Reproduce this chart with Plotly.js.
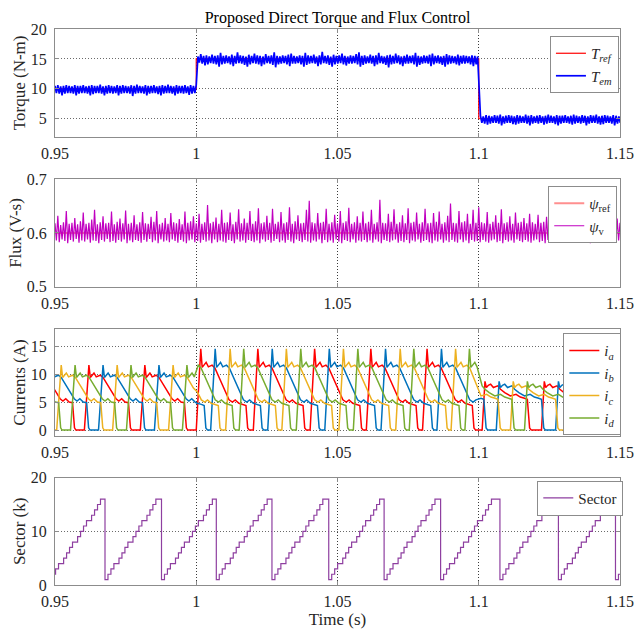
<!DOCTYPE html>
<html><head><meta charset="utf-8">
<script src="https://cdn.plot.ly/plotly-3.0.1.min.js"></script>
<style>html,body{margin:0;padding:0;background:#fff}</style>
</head><body><div id="chart" style="width:639px;height:630px"></div>
<script>
// ---------- axis ticks ----------
const xTickVals = [0.95, 1, 1.05, 1.1, 1.15];
const xTickText = ['0.95', '1', '1.05', '1.1', '1.15'];

// ---------- torque reference (N-m) ----------
const trefT = [0.95, 1.0, 1.1, 1.15];
const trefV = [10, 15, 5, 5];

// ---------- electromagnetic torque ripple band, read every 1 ms ----------
// segment A: 0.950 .. 1.000
const temHiA = [10.5,10.6,10.4,10.5,10.6,10.5,10.4,10.6,10.5,10.5,
  10.6,10.4,10.5,10.6,10.5,10.5,10.7,10.4,10.5,10.6,
  10.5,10.4,10.6,10.5,10.6,10.5,10.4,10.6,10.5,10.7,
  10.5,10.4,10.6,10.5,10.5,10.6,10.4,10.5,10.6,10.5,
  10.7,10.5,10.4,10.6,10.5,10.5,10.6,10.4,10.6,10.5,10.6];
const temLoA = [9.3,9.2,8.9,9.2,9.3,9.3,9.2,8.9,9.2,9.3,
  9.3,9.2,8.9,9.1,9.3,9.3,9.2,8.9,9.2,9.3,
  9.2,9.3,8.9,9.2,9.3,9.3,9.2,8.8,9.2,9.3,
  9.3,9.2,8.9,9.2,9.3,9.3,9.1,8.9,9.2,9.3,
  9.3,9.2,8.9,9.2,9.3,9.2,9.3,9.0,9.2,9.3,9.3];
// segment B: 1.0006 .. 1.0996
const temHiB = [15.4,15.8,15.5,15.6,15.4,15.7,15.5,15.6,16.0,15.5,
  15.6,15.4,15.7,15.5,16.1,15.6,15.5,15.4,15.7,15.5,
  15.9,15.6,15.5,15.4,15.8,15.5,15.6,16.1,15.5,15.4,
  15.6,15.5,15.7,15.9,15.5,15.4,15.6,15.5,16.0,15.6,
  15.5,15.7,15.4,15.6,16.2,15.5,15.6,15.4,15.7,15.5,
  15.6,15.9,15.5,15.4,15.6,15.5,15.8,16.1,15.5,15.6,
  15.4,15.7,15.5,15.6,16.0,15.5,15.4,15.6,15.7,15.5,
  15.9,15.6,15.4,15.5,15.7,15.5,15.6,16.0,15.5,15.4,
  15.6,15.5,15.7,15.9,15.5,15.6,15.4,15.5,15.8,15.6,
  15.5,15.4,15.7,15.5,15.6,15.5,15.4,15.6,15.5,15.4];
const temLoB = [14.4,14.2,13.9,14.1,14.3,14.2,14.1,13.7,14.1,14.2,
  14.3,14.1,13.8,14.2,14.3,14.2,14.0,13.7,14.1,14.3,
  14.2,14.1,13.8,14.1,14.3,14.2,14.0,13.6,14.1,14.2,
  14.3,14.1,13.8,14.2,14.2,14.3,14.1,13.7,14.0,14.2,
  14.3,14.2,13.8,14.1,14.3,14.2,14.0,13.7,14.1,14.2,
  14.3,14.1,13.9,14.2,14.2,14.3,14.1,13.7,14.0,14.2,
  14.3,14.2,13.8,14.1,14.3,14.2,14.0,13.6,14.1,14.2,
  14.3,14.1,13.8,14.2,14.2,14.3,14.1,13.7,14.0,14.2,
  14.3,14.2,13.8,14.1,14.3,14.2,14.0,13.7,14.1,14.2,
  14.3,14.1,13.9,14.2,14.2,14.3,14.1,13.8,14.1,14.2];
// segment C: 1.1006 .. 1.1506
const temHiC = [5.5,5.4,5.6,5.5,5.4,5.6,5.5,5.7,5.4,5.5,
  5.6,5.5,5.4,5.6,5.5,5.4,5.7,5.5,5.6,5.4,
  5.5,5.6,5.4,5.5,5.7,5.5,5.4,5.6,5.5,5.5,
  5.6,5.4,5.5,5.7,5.5,5.4,5.6,5.5,5.4,5.6,
  5.5,5.7,5.4,5.5,5.6,5.5,5.4,5.6,5.5,5.4,5.6];
const temLoC = [4.3,4.2,4.0,4.2,4.3,4.3,4.2,3.9,4.2,4.3,
  4.3,4.1,4.0,4.2,4.3,4.3,4.2,3.9,4.2,4.3,
  4.2,4.3,4.0,4.2,4.3,4.3,4.1,3.9,4.2,4.3,
  4.3,4.2,4.0,4.2,4.3,4.2,4.3,3.9,4.2,4.3,
  4.3,4.2,4.0,4.1,4.3,4.3,4.2,3.9,4.2,4.3,4.3];

// ---------- flux (V-s), band read every 1 ms from 0.950 ----------
const psiRef = 0.6;
const psiHi = [
 .618,.632,.615,.620,.641,.617,.619,.628,.616,.622,
 .638,.617,.619,.625,.643,.616,.620,.631,.618,.619,
 .640,.616,.621,.627,.618,.642,.617,.619,.633,.616,
 .620,.639,.618,.617,.630,.621,.641,.616,.619,.628,
 .617,.637,.620,.618,.626,.616,.640,.619,.622,.631,
 .618,.636,.617,.620,.652,.618,.621,.629,.617,.643,
 .619,.620,.638,.616,.621,.644,.618,.627,.619,.641,
 .617,.622,.646,.618,.620,.632,.619,.645,.617,.621,
 .639,.618,.620,.648,.617,.622,.633,.618,.619,.643,
 .660,.620,.618,.637,.619,.621,.645,.617,.620,.634,
 .618,.641,.619,.622,.647,.617,.620,.631,.619,.640,
 .618,.621,.643,.617,.620,.662,.619,.618,.636,.621,
 .644,.617,.620,.633,.618,.646,.619,.621,.638,.617,
 .620,.645,.618,.619,.637,.621,.640,.617,.620,.632,
 .655,.619,.618,.641,.620,.622,.636,.617,.643,.619,
 .648,.620,.618,.639,.617,.621,.633,.619,.644,.618,
 .620,.631,.617,.638,.619,.621,.628,.618,.636,.620,
 .617,.634,.619,.621,.630,.618,.635,.620,.617,.629,
 .621,.633,.618,.620,.627,.617,.632,.619,.621,.628,
 .618,.631,.620,.617,.629,.619,.634,.618,.620,.627,
 .619];
const psiLo = [
 .586,.583,.588,.585,.581,.587,.584,.589,.582,.586,
 .584,.588,.582,.586,.585,.581,.587,.584,.589,.583,
 .585,.582,.587,.584,.588,.581,.586,.583,.587,.585,
 .582,.587,.584,.589,.583,.586,.581,.588,.584,.586,
 .583,.588,.585,.582,.587,.584,.581,.586,.588,.583,
 .585,.582,.587,.584,.586,.581,.588,.583,.586,.584,
 .582,.587,.585,.581,.588,.584,.586,.582,.587,.585,
 .583,.586,.581,.588,.584,.587,.582,.585,.589,.583,
 .586,.582,.587,.584,.581,.588,.585,.583,.587,.584,
 .582,.586,.584,.588,.581,.587,.583,.586,.582,.588,
 .584,.581,.587,.585,.583,.588,.582,.586,.584,.587,
 .583,.586,.582,.588,.584,.581,.587,.585,.583,.586,
 .588,.582,.585,.583,.587,.581,.586,.584,.588,.582,
 .585,.587,.583,.581,.586,.584,.588,.582,.586,.583,
 .587,.584,.582,.588,.583,.586,.581,.587,.584,.585,
 .583,.587,.584,.582,.586,.588,.583,.585,.581,.587,
 .584,.586,.582,.588,.585,.583,.587,.584,.582,.586,
 .588,.583,.585,.581,.587,.584,.586,.582,.588,.584,
 .583,.587,.585,.582,.586,.584,.588,.583,.585,.581,
 .587,.584,.586,.582,.588,.583,.585,.587,.582,.586,
 .585];

// ---------- phase current pulse shapes (offset from pulse peak in s, current in A) ----------
const pulseOff10 = [-0.0016,-0.0008,0,0.0005,0.0012,0.0018,0.0026,0.0040,0.0050,0.0060,0.0072,0.0084,0.0096,0.0106,0.0116,0.0128,0.0140,0.0147,0.0152];
const pulseI10   = [0, 5.0, 11.6, 9.4, 9.9, 10.2, 9.5, 9.8, 9.4, 8.6, 7.5, 6.5, 5.6, 5.2, 5.6, 5.0, 4.9, 0.4, 0];
const pulseOff15 = [-0.0016,-0.0008,0,0.0005,0.0012,0.0019,0.0027,0.0040,0.0050,0.0060,0.0072,0.0086,0.0100,0.0112,0.0122,0.0135,0.0150,0.0160,0.0166,0.0172];
const pulseI15   = [0, 6.5, 14.5, 11.2, 11.7, 12.1, 11.3, 11.6, 11.1, 9.9, 8.5, 6.8, 5.4, 5.0, 5.4, 4.8, 4.6, 4.4, 0.4, 0];
const pulseOff5  = [-0.0010, 0, 0.0005, 0.0012, 0.0020, 0.0030, 0.0045, 0.0055, 0.0070, 0.0090, 0.0110, 0.0125, 0.0140, 0.0150, 0.0158, 0.0164];
const pulseI5    = [0, 8.7, 7.6, 8.0, 8.2, 7.6, 7.9, 7.3, 6.7, 6.1, 6.4, 5.9, 5.7, 5.5, 0.4, 0];

// peak times (s) of each phase current, per torque step
const iaPeaksA = [0.9422, 0.9620, 0.9818];
const iaPeaksB = [0.9818, 1.0016, 1.0218, 1.0419, 1.0618, 1.0817];
const iaPeaksC = [1.0817, 1.1022, 1.1232, 1.1432];
const ibPeaksA = [0.9472, 0.9670, 0.9868];
const ibPeaksB = [0.9868, 1.0067, 1.0269, 1.0471, 1.0670, 1.0868];
const ibPeaksC = [1.0868, 1.1072, 1.1282, 1.1484];
const icPeaksA = [0.9324, 0.9522, 0.9720, 0.9918];
const icPeaksB = [0.9918, 1.0120, 1.0319, 1.0521, 1.0722, 1.0918];
const icPeaksC = [1.0918, 1.1122, 1.1332];
const idPeaksA = [0.9373, 0.9571, 0.9769, 0.9967];
const idPeaksB = [0.9967, 1.0168, 1.0370, 1.0572, 1.0770, 1.0967];
const idPeaksC = [1.0967, 1.1172, 1.1382];

// ---------- sector ----------
const sectorResets = [0.9481, 0.9677, 0.9877, 1.0071, 1.0268, 1.0469, 1.0665, 1.0865, 1.1075, 1.1282, 1.1484];
const sectorLevels = [1,2,3,4,5,6,7,8,9,10,11,12,13,14,15,16];
const sectorStepOff = [0,0.00105,0.0021,0.00315,0.00495,0.0060,0.00705,0.0081,0.0099,0.01095,0.0120,0.01305,0.01485,0.0159,0.01695,0.0180];

// ---------- builders ----------
function zigzag(t0, dt, hi, lo) {
  const x = [], y = [];
  for (let i = 0; i < hi.length; i++) {
    x.push(t0 + i * dt); y.push(hi[i]);
    if (i < hi.length - 1) { x.push(t0 + (i + 0.5) * dt); y.push(lo[i]); }
  }
  return {x, y};
}
function joinParts(parts) {
  return {x: [].concat(...parts.map(p => p.x)), y: [].concat(...parts.map(p => p.y))};
}
function pulses(peaks, off, val, tmin, tmax) {
  const x = [], y = [];
  peaks.forEach(p => off.forEach((o, k) => {
    const t = p + o;
    if (t >= tmin && t < tmax) { x.push(t); y.push(val[k]); }
  }));
  return {x, y};
}
function phase(pA, pB, pC) {
  return joinParts([
    pulses(pA, pulseOff10, pulseI10, 0.93, 1.0),
    pulses(pB, pulseOff15, pulseI15, 1.0, 1.1),
    pulses(pC, pulseOff5, pulseI5, 1.1, 1.17)
  ]);
}
function sectorSeries() {
  const x = [], y = [];
  sectorResets.forEach((r, c) => {
    const next = c + 1 < sectorResets.length ? sectorResets[c + 1] : 1.17;
    sectorStepOff.forEach((o, k) => {
      if (r + o < next) { x.push(r + o); y.push(sectorLevels[k]); }
    });
  });
  x.push(1.16); y.push(y[y.length - 1]);
  return {x, y};
}

const tem = joinParts([
  zigzag(0.950, 0.001, temHiA, temLoA),
  zigzag(1.0006, 0.001, temHiB, temLoB),
  zigzag(1.1006, 0.001, temHiC, temLoC)
]);
const psi = zigzag(0.950, 0.001, psiHi, psiLo);
const ia = phase(iaPeaksA, iaPeaksB, iaPeaksC);
const ib = phase(ibPeaksA, ibPeaksB, ibPeaksC);
const ic = phase(icPeaksA, icPeaksB, icPeaksC);
const id = phase(idPeaksA, idPeaksB, idPeaksC);
const sec = sectorSeries();

// ---------- styling ----------
const FONT = '"Liberation Serif", "Times New Roman", serif';
const INK = '#262626';
function xAxis(anchor, extra) {
  return Object.assign({
    anchor, domain: [0, 1], range: [0.95, 1.15],
    tickvals: xTickVals, ticktext: xTickText,
    showline: true, linecolor: '#8c8c8c', linewidth: 1, mirror: 'ticks',
    ticks: 'inside', ticklen: 4, tickcolor: '#8c8c8c',
    showgrid: true, gridcolor: '#3a3a3a', griddash: '1px,2px', gridwidth: 1,
    zeroline: false, tickfont: {family: FONT, size: 16, color: INK},
    ticklabelstandoff: 2
  }, extra || {});
}
function yAxis(anchor, domain, range, tickvals, title, extra) {
  return Object.assign({
    anchor, domain, range, tickvals,
    showline: true, linecolor: '#8c8c8c', linewidth: 1, mirror: 'ticks',
    ticks: 'inside', ticklen: 4, tickcolor: '#8c8c8c',
    showgrid: true, gridcolor: '#6a6a6a', griddash: '1px,2px', gridwidth: 1,
    zeroline: false, tickfont: {family: FONT, size: 16, color: INK},
    ticklabelstandoff: 4,
    title: {text: title, font: {family: FONT, size: 17, color: INK}, standoff: 0}
  }, extra || {});
}
function legendBox(x, y) {
  return {x, y, xanchor: 'left', yanchor: 'top', bgcolor: '#ffffff',
    bordercolor: '#8c8c8c', borderwidth: 1, itemwidth: 30, tracegroupgap: 0,
    font: {family: FONT, size: 15, color: INK}};
}

const traces = [
  {x: trefT, y: trefV, type: 'scatter', mode: 'lines', line: {color: '#ff0000', width: 1.2, shape: 'hv'},
   name: '<i>T</i><sub><i>ref</i></sub>', xaxis: 'x', yaxis: 'y', legend: 'legend'},
  {x: tem.x, y: tem.y, type: 'scatter', mode: 'lines', line: {color: '#0000ff', width: 1.7},
   name: '<i>T</i><sub><i>em</i></sub>', xaxis: 'x', yaxis: 'y', legend: 'legend'},
  {x: [0.95, 1.15], y: [psiRef, psiRef], type: 'scatter', mode: 'lines', line: {color: '#ff8f8f', width: 2},
   name: '<i>ψ</i><sub>ref</sub>', xaxis: 'x2', yaxis: 'y2', legend: 'legend2'},
  {x: psi.x, y: psi.y, type: 'scatter', mode: 'lines', line: {color: '#c000c0', width: 1.2},
   name: '<i>ψ</i><sub>v</sub>', xaxis: 'x2', yaxis: 'y2', legend: 'legend2'},
  {x: ia.x, y: ia.y, type: 'scatter', mode: 'lines', line: {color: '#ff0000', width: 1.5},
   name: '<i>i</i><sub><i>a</i></sub>', xaxis: 'x3', yaxis: 'y3', legend: 'legend3'},
  {x: ib.x, y: ib.y, type: 'scatter', mode: 'lines', line: {color: '#0072bd', width: 1.5},
   name: '<i>i</i><sub><i>b</i></sub>', xaxis: 'x3', yaxis: 'y3', legend: 'legend3'},
  {x: ic.x, y: ic.y, type: 'scatter', mode: 'lines', line: {color: '#edb120', width: 1.5},
   name: '<i>i</i><sub><i>c</i></sub>', xaxis: 'x3', yaxis: 'y3', legend: 'legend3'},
  {x: id.x, y: id.y, type: 'scatter', mode: 'lines', line: {color: '#77ac30', width: 1.5},
   name: '<i>i</i><sub><i>d</i></sub>', xaxis: 'x3', yaxis: 'y3', legend: 'legend3'},
  {x: sec.x, y: sec.y, type: 'scatter', mode: 'lines', line: {color: '#8e3fa0', width: 1.2, shape: 'hv'},
   name: 'Sector', xaxis: 'x4', yaxis: 'y4', legend: 'legend4'}
];

const layout = {
  width: 639, height: 630,
  margin: {l: 55, r: 19, t: 29, b: 45},
  paper_bgcolor: '#ffffff', plot_bgcolor: '#ffffff',
  font: {family: FONT, color: INK},
  title: {text: 'Proposed Direct Torque and Flux Control', font: {family: FONT, size: 16, color: '#000'},
    xref: 'paper', x: 0.5, xanchor: 'center', yref: 'container', y: 0.973, yanchor: 'middle'},
  xaxis: xAxis('y'),
  xaxis2: xAxis('y2'),
  xaxis3: xAxis('y3'),
  xaxis4: xAxis('y4', {title: {text: 'Time (s)', font: {family: FONT, size: 17, color: INK}, standoff: 0}}),
  yaxis: yAxis('x', [0.8063, 1.0], [2, 20], [5, 10, 15, 20], 'Torque (N-m)'),
  yaxis2: yAxis('x2', [0.5365, 0.7297], [0.5, 0.7], [0.5, 0.6, 0.7], 'Flux (V-s)'),
  yaxis3: yAxis('x3', [0.2685, 0.4599], [-1, 18], [0, 5, 10, 15], 'Currents (A)'),
  yaxis4: yAxis('x4', [0, 0.193], [0, 20], [0, 10, 20], 'Sector (k)'),
  legend: legendBox(0.876, 0.9874),
  legend2: legendBox(0.873, 0.7176),
  legend3: legendBox(0.8997, 0.4527),
  legend4: legendBox(0.8536, 0.1876),
  showlegend: true
};

Plotly.newPlot('chart', traces, layout, {staticPlot: true, displayModeBar: false});
</script></body></html>
